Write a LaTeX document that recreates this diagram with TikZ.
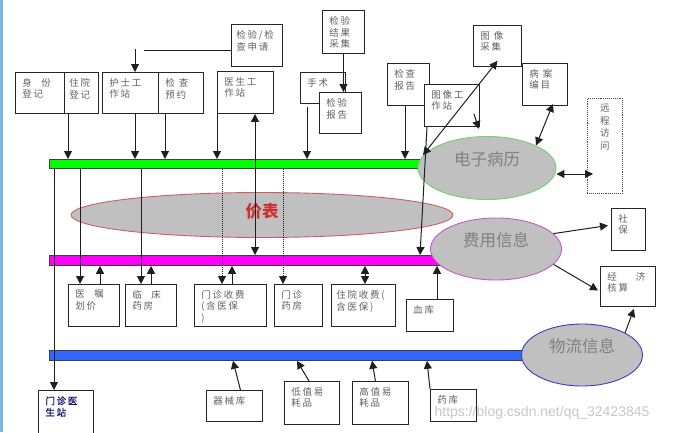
\documentclass[tikz,border=0pt]{standalone}
\usepackage{fontspec}
\setmainfont{Noto Sans CJK SC}
\newfontfamily\cjkls[LetterSpace=18]{Noto Sans CJK SC}
\newfontfamily\cjkbig{Noto Sans CJK SC}
\newfontfamily\cjkbold[LetterSpace=18,FakeBold=1.2]{Noto Sans CJK SC}
\newfontfamily\wmfont{Liberation Sans}
\usetikzlibrary{arrows.meta,shapes.geometric}
\definecolor{bargreen}{RGB}{0,255,0}
\definecolor{barpink}{RGB}{255,0,255}
\definecolor{barblue}{RGB}{51,102,255}
\definecolor{ellgray}{RGB}{192,192,192}
\definecolor{ellgreen}{RGB}{110,210,110}
\definecolor{ellpink}{RGB}{200,90,200}
\definecolor{ellred}{RGB}{205,95,95}
\definecolor{ellblue}{RGB}{60,60,200}
\definecolor{pricered}{RGB}{205,50,50}
\definecolor{navytext}{RGB}{25,25,120}
\definecolor{stripblue}{RGB}{125,185,230}
\tikzset{
  box/.style={draw=black!85, fill=white, line width=0.9pt, anchor=north west,
    inner xsep=7pt, inner ysep=6pt, font=\cjkls\fontsize{9.5}{11.5}\selectfont, text=black!62},
  bar/.style={draw=black!75, line width=0.8pt, anchor=north west, inner sep=0pt},
  ell/.style={ellipse, fill=ellgray, line width=0.9pt, inner sep=0pt,
    font=\cjkbig\fontsize{16.5}{16.5}\selectfont, text=black!50,
    text height=12pt, text depth=18pt},
  ln/.style={draw=black!88, line width=1pt},
  arr/.style={ln, -{Triangle[length=8pt,width=8pt]}},
  darr/.style={ln, {Triangle[length=8pt,width=8pt]}-{Triangle[length=8pt,width=8pt]}},
  dotln/.style={arr, densely dotted},
}
\newcommand{\mybox}[7][]{\node[box,#1] (#2) at (#3,#4) {\parbox[c][\dimexpr#6pt-#4pt-12pt\relax][t]{\dimexpr#5pt-#3pt-14pt\relax}{\raggedright #7}};}
\begin{document}
\begin{tikzpicture}[x=1pt,y=-1pt]
\useasboundingbox (0,0) rectangle (674,432);
\fill[stripblue] (0,0) rectangle (3,432);

% bars
\node[bar, fill=bargreen, minimum width=381pt, minimum height=9pt] (green) at (49,159) {};
\node[bar, fill=barpink, minimum width=396pt, minimum height=10pt] (pink) at (49,255) {};
\node[bar, fill=barblue, minimum width=481pt, minimum height=10pt] (blue) at (49,350) {};

% ellipses
\node[ell, draw=ellred, minimum width=382pt, minimum height=45pt,
  font=\cjkbig\fontsize{16.5}{16.5}\selectfont\bfseries, text=pricered,
  text height=12pt, text depth=8pt] (price) at (262,215) {价表};
\node[ell, draw=ellgreen, minimum width=138pt, minimum height=63pt] (emr) at (487,168) {电子病历};
\node[ell, draw=ellpink, minimum width=131pt, minimum height=62pt] (fee) at (496,249) {费用信息};
\node[ell, draw=ellblue, minimum width=121pt, minimum height=62pt] (logi) at (582,355) {物流信息};

% top boxes
\mybox{sf}{15}{72}{64}{113}{身\quad 份\\登记}
\mybox[inner xsep=5pt]{zy}{64}{72}{102}{113}{住院\\登记}
\mybox{hs}{102}{72}{158}{113}{护士工\\作站}
\mybox{jy}{158}{72}{203}{113}{检\ 查\\预约}
\mybox[inner xsep=5pt]{sq}{231}{24}{286}{66}{检验/检\\查申请}
\mybox{ys}{217}{71}{273}{113}{医生工\\作站}
\mybox{jg}{322}{10}{364}{53}{检验\\结果\\采集}
\mybox{ss}{300}{72}{345}{103}{手术}
\mybox{jb}{319}{92}{361}{133}{检验\\报告}
\mybox{jc}{387}{63}{429}{105}{检查\\报告}
\mybox{tx}{424}{84}{479}{126}{图像工\\作站}
\mybox{tc}{473}{25}{521}{66}{图\ 像\\采集}
\mybox{ba}{522}{63}{567}{105}{病\ 案\\编目}
\node[box, draw=black!70, densely dotted, line width=0.8pt, inner xsep=4pt] (yc) at (587,98)
  {\parbox[c][83pt][t]{27pt}{\centering\fontsize{9.5}{12.5}\selectfont 远\\程\\访\\问}};

% right boxes
\mybox{sb}{611}{208}{645}{250}{社\\保}
\mybox{jj}{600}{266}{655}{306}{经\qquad 济\\核算}

% middle boxes
\mybox{yz}{68}{284}{119}{326}{医\quad 嘱\\划价}
\mybox{lc}{125}{284}{176}{326}{临\quad 床\\药房}
\mybox{ms}{194}{284}{266}{326}{门诊收费\\(\,含医保\\)}
\mybox{my}{274}{284}{322}{326}{门诊\\药房}
\mybox[inner xsep=5pt]{zs}{331}{284}{399}{326}{住院收费(\\含医保)}
\mybox{xk}{406}{299}{453}{331}{血库}

% bottom boxes
\mybox[font=\cjkbold\fontsize{9.5}{11.5}\selectfont, text=navytext]{mz}{38}{390}{93}{445}{门诊医\\生站}
\mybox{qx}{206}{390}{262}{421}{器械库}
\mybox{dz}{284}{381}{339}{424}{低值易\\耗品}
\mybox{gz}{352}{381}{408}{424}{高值易\\耗品}
\mybox{yk}{430}{389}{476}{421}{药库}

% helper coordinates
\coordinate (gapR) at (144,50);
\coordinate (gapL) at (135,49);
\coordinate (dA) at (423,155);

% connectors: top
\draw[ln] (sq.west |- 0,50) -- (gapR);
\draw[arr] (gapL) -- (hs.north -| gapL);
\draw[arr] (zy.south -| 68,0) -- (green.north -| 68,0);
\draw[arr] (hs.south -| 135,0) -- (green.north -| 135,0);
\draw[arr] (jy.south -| 165,0) -- (green.north -| 165,0);
\draw[arr] (ys.south west) -- (green.north -| ys.south west);
\draw[darr] (ys.south -| 255,0) -- (pink.north -| 255,0);
\draw[arr] ([yshift=-3pt]ss.south -| 307,0) -- (green.north -| 307,0);
\draw[arr] (jg.south) -- (jb.north -| jg.south);
\draw[arr] (jc.south -| 405,0) -- (green.north -| 405,0);
\draw[arr] ([xshift=3pt]tx.south west) -- (pink.north -| 420,0);
\draw[arr] ([xshift=-6pt,yshift=13pt]tx.south east) -- ([xshift=-1pt,yshift=-2pt]tx.south east);
\draw[darr] (dA) -- ([yshift=6pt]tc.south);
\draw[darr] ([xshift=8pt,yshift=2pt]ba.south) -- (emr.north east);
\draw[darr] (emr.east |- 0,174) -- ([xshift=6pt]yc.west |- 0,174);

% connectors: right
\draw[arr] (fee.15) -- ([xshift=-3pt,yshift=4pt]sb.west);
\draw[arr] (fee.-15) -- ([xshift=-2pt,yshift=-4pt]jj.west);
\draw[arr] (logi.north east) -- ([xshift=6pt,yshift=-2pt]jj.south);

% connectors: middle
\draw[arr] (green.south -| 80,0) -- (yz.north -| 80,0);
\draw[arr] (yz.north -| 100,0) -- (pink.south -| 100,0);
\draw[arr] (green.south -| 141,0) -- (lc.north -| 141,0);
\draw[arr] (lc.north -| 151,0) -- (pink.south -| 151,0);
\draw[dotln] (green.south -| 222,0) -- (ms.north -| 222,0);
\draw[arr] (ms.north -| 232,0) -- (pink.south -| 232,0);
\draw[dotln] (green.south -| 283,0) -- (my.north -| 283,0);
\draw[darr] (zs.north -| 365,0) -- (pink.south -| 365,0);
\draw[arr] (xk.north -| 437,0) -- (pink.south -| 437,0);

% connectors: bottom
\draw[arr] (green.south -| 54,0) -- (mz.north -| 54,0);
\draw[arr] ([xshift=6pt]qx.north) -- (blue.south -| 233,0);
\draw[arr] ([xshift=-3pt]dz.north) -- (blue.south -| 297,0);
\draw[arr] ([xshift=-5pt]gz.north) -- (blue.south -| 372,0);
\draw[arr] (yk.north west) -- (blue.south -| 427,0);

% watermark
\node[font=\wmfont\fontsize{14}{14}\selectfont, text=black!22] (wm) at (542,413) {https://blog.csdn.net/qq\_32423845};
\end{tikzpicture}
\end{document}
